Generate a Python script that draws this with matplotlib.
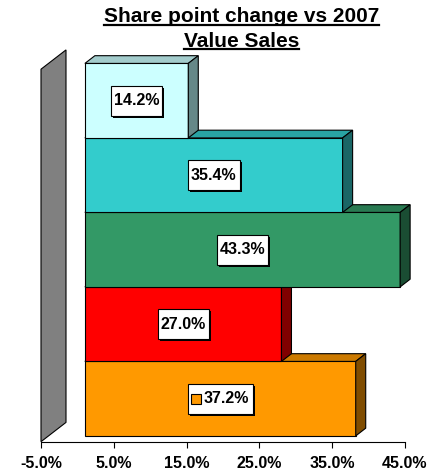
import matplotlib
matplotlib.use("Agg")
import matplotlib.pyplot as plt
from matplotlib.patches import Polygon, Rectangle
from matplotlib.lines import Line2D

# data, top bar first
values = [14.2, 35.4, 43.3, 27.0, 37.2]
labels = ["14.2%", "35.4%", "43.3%", "27.0%", "37.2%"]
front_colors = ["#CCFFFF", "#33CCCC", "#339966", "#FF0000", "#FF9900"]
top_colors = ["#A3CCCC", "#29A3A3", "#297A52", "#CC0000", "#CC7A00"]
side_colors = ["#668888", "#1A6666", "#1A4D33", "#800000", "#804D00"]
key_on = [False, False, False, False, True]
ticks = [-5, 5, 15, 25, 35, 45]
tick_labels = ["-5.0%", "5.0%", "15.0%", "25.0%", "35.0%", "45.0%"]
title1 = "Share point change vs 2007"
title2 = "Value Sales"

plt.rcParams['font.family'] = ['Liberation Sans', 'DejaVu Sans']

W, H = 435, 470
fig = plt.figure(figsize=(W / 100, H / 100), dpi=100)
ax = fig.add_axes([41 / W, (H - 441.7) / H, (405 - 41) / W, (441.7 - 45) / H])
ax.set_xlim(-5, 45)
ax.set_ylim(0, (441.7 - 45) / 74.5)

# depth of the 3d box, in data units
DX = 25 / 7.28
DY = 19.3 / 74.5
f0, f1 = 0.3, 0.7
n = len(values)
lw = 0.8

# back wall
wall = Polygon([(-5, 0), (-5 + DX, DY), (-5 + DX, n + DY), (-5, n)],
               closed=True, facecolor="#808080", edgecolor="black", lw=lw, zorder=1,
               clip_on=False)
ax.add_patch(wall)

texts = []
for k in range(n):
    i = n - 1 - k  # bottom bar first
    v = values[i]
    y0 = k + f0 * DY
    y1 = k + 1 + f0 * DY
    x0 = 0 + f0 * DX
    x1 = v + f0 * DX
    dx = (f1 - f0) * DX
    dy = (f1 - f0) * DY
    z = 2 + k
    ax.add_patch(Rectangle((x0, y0), x1 - x0, y1 - y0, facecolor=front_colors[i],
                           edgecolor="black", lw=lw, zorder=z, clip_on=False))
    ax.add_patch(Polygon([(x0, y1), (x1, y1), (x1 + dx, y1 + dy), (x0 + dx, y1 + dy)],
                         closed=True, facecolor=top_colors[i], edgecolor="black",
                         lw=lw, zorder=z, clip_on=False))
    ax.add_patch(Polygon([(x1, y0), (x1, y1), (x1 + dx, y1 + dy), (x1 + dx, y0 + dy)],
                         closed=True, facecolor=side_colors[i], edgecolor="black",
                         lw=lw, zorder=z, clip_on=False))
    t = ax.text((x0 + x1) / 2, (y0 + y1) / 2, labels[i], ha="center", va="center",
                fontsize=11.5, fontweight="bold", zorder=20)
    texts.append((t, i))

for s in ["top", "left", "right"]:
    ax.spines[s].set_visible(False)
ax.spines["bottom"].set_linewidth(0.8)
ax.set_yticks([])
ax.set_xticks(ticks)
ax.set_xticklabels(tick_labels, fontsize=11.5, fontweight="bold")
ax.tick_params(axis="x", length=4, width=0.8, pad=6)

t1 = fig.text(241.5 / W, (H - 22.3) / H, title1, ha="center", va="baseline",
              fontsize=15, fontweight="bold")
t2 = fig.text(241.5 / W, (H - 46.7) / H, title2, ha="center", va="baseline",
              fontsize=15, fontweight="bold")

fig.canvas.draw()
r = fig.canvas.get_renderer()

# underline the title lines
for t in (t1, t2):
    bb = t.get_window_extent(r)
    base = t.get_transform().transform(t.get_position())[1]
    fig.add_artist(Line2D([bb.x0, bb.x1], [base - 2.2, base - 2.2], color="black",
                          lw=1.6, transform=None))

# label boxes with shadow
for t, i in texts:
    bb = t.get_window_extent(r)
    cx = (bb.x0 + bb.x1) / 2
    cy = (bb.y0 + bb.y1) / 2
    bw = bb.width + 6
    if key_on[i]:
        bw = bb.width + 20
    bh = 30
    left = cx - bw / 2
    bottom = cy - bh / 2
    ax.add_patch(Rectangle((left + 2, bottom - 2), bw, bh, facecolor="black",
                           edgecolor="none", transform=None, zorder=18))
    ax.add_patch(Rectangle((left, bottom), bw, bh, facecolor="white",
                           edgecolor="black", lw=0.8, transform=None, zorder=19))
    if key_on[i]:
        ax.add_patch(Rectangle((left + 3.6, cy - 5), 10, 10, facecolor=front_colors[i],
                               edgecolor="black", lw=0.8, transform=None, zorder=21))
        px, py = ax.transData.inverted().transform((left + 16, cy))
        t.set_position((px, py))
        t.set_ha("left")

fig.savefig("out.png", dpi=100)
